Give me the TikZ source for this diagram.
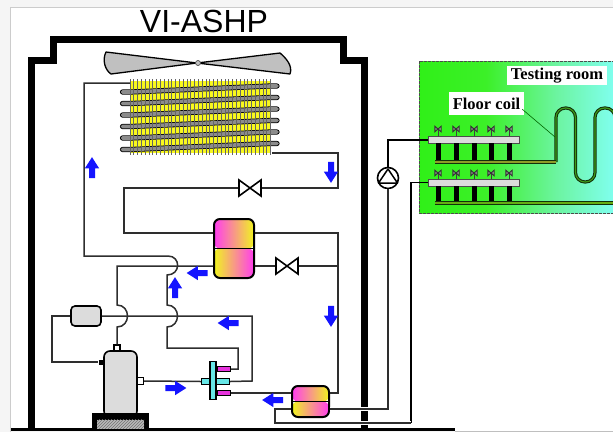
\documentclass[tikz,border=0pt]{standalone}
\usepackage{fontspec}
\setmainfont{Liberation Serif}
\setsansfont{Liberation Sans}
\usetikzlibrary{shapes.arrows, patterns}
\definecolor{pagegray}{HTML}{F5F5F5}
\definecolor{pipegray}{HTML}{2E2E2E}
\definecolor{bodygray}{HTML}{DCDCDC}
\definecolor{bladegray}{HTML}{C0C0C0}
\definecolor{tubegray}{HTML}{8C8C8C}
\definecolor{finyellow}{HTML}{F8F81E}
\definecolor{flowblue}{HTML}{1414FF}
\definecolor{tonemagenta}{HTML}{FF3CF0}
\definecolor{toneyellow}{HTML}{F0F51E}
\definecolor{fourcyan}{HTML}{66E6E6}
\definecolor{fourmagenta}{HTML}{E632DC}
\definecolor{coilgreen}{HTML}{3E9A18}
\definecolor{coildark}{HTML}{12300A}
\definecolor{coilyellow}{HTML}{8E9C28}
\definecolor{roomA}{HTML}{30F018}
\definecolor{roomB}{HTML}{3CF028}
\definecolor{roomC}{HTML}{6CF4A0}
\definecolor{roomD}{HTML}{80FFF0}
\pgfdeclarehorizontalshading{roomshade}{100bp}{color(0bp)=(roomA); color(25bp)=(roomA); color(42bp)=(roomB); color(60bp)=(roomC); color(75bp)=(roomD); color(100bp)=(roomD)}
\tikzset{
  pipe/.style={draw=pipegray, line width=1.5pt},
  halopipe/.style={pipe, preaction={draw=white, line width=4.5pt}},
  wall/.style={draw=black, line width=7pt, miter limit=10},
  flowarrow/.style={single arrow, fill=flowblue, inner sep=2.8pt, minimum width=14pt, minimum height=21pt, single arrow head extend=4.2pt, single arrow head indent=0pt, single arrow tip angle=65},
  twotone/.style={draw=black, line width=2pt, rounded corners=6pt, inner sep=0pt, path picture={
      \shade[left color=tonemagenta, right color=toneyellow] (path picture bounding box.north west) rectangle (path picture bounding box.east);
      \shade[left color=toneyellow, right color=tonemagenta] (path picture bounding box.west) rectangle (path picture bounding box.south east);
      \draw[black, line width=1.2pt] (path picture bounding box.west) -- (path picture bounding box.east);}},
  graybody/.style={draw=black, fill=bodygray, line width=1.6pt, inner sep=0pt},
  fourway/.style={draw=black, line width=1.4pt, inner sep=0pt},
  manifold/.style={draw=black!70, fill=bodygray, line width=0.8pt, inner sep=0pt, minimum width=91pt, minimum height=7pt},
  bowvalve/.pic={\draw[draw=black, fill=white, line width=1.6pt] (-11,-8) -- (11,8) -- (11,-8) -- (-11,8) -- cycle;},
  tinyvalve/.pic={\draw[draw=black!80, fill=black!45, line width=0.9pt] (-3.2,-2.8) -- (3.2,2.8) -- (3.2,-2.8) -- (-3.2,2.8) -- cycle;},
  coilouter/.style={draw=coildark, line width=3.2pt},
  coilinner/.style={draw=coilgreen, line width=1.1pt},
}
\begin{document}
\begin{tikzpicture}[x=1pt, y=-1pt]
  \useasboundingbox (0,0) rectangle (613,432);
  \fill[pagegray] (0,0) rectangle (613,432);
  \fill[white] (10,7) rectangle (613,431);
  \draw[gray!40, line width=0.6pt] (10,432) |- (613,7);
  \draw[gray!50, line width=0.8pt] (455,431) -- (613,431);

  \node[font=\sffamily\fontsize{32}{32}\selectfont, inner sep=0pt] (title) at (204,21) {VI-ASHP};

  \draw[wall] (31.5,429) -- (31.5,60.5) -- (53.5,60.5) -- (53.5,39) -- (343,39) -- (343,60.5) -- (364,60.5) -- (364,429);
  \draw[draw=black, line width=3pt] (11,429.5) -- (455,429.5);

  \draw[draw=black, fill=bladegray, line width=1.3pt, line join=round] (197,63) -- (106,52) .. controls (102,60) and (105,70) .. (111,74) -- cycle;
  \draw[draw=black, fill=bladegray, line width=1.3pt, line join=round] (197,63) -- (280,53) .. controls (286,58) and (293,66) .. (290,74) -- cycle;
  \node[circle, draw=black!70, fill=bladegray, line width=0.7pt, minimum size=5pt, inner sep=0pt] (hub) at (198,63) {};

  \coordinate (coilIn) at (130,83);
  \coordinate (coilOut) at (272,153);
  \fill[finyellow] (130,81) rectangle (271,153);
  \foreach \y in {92,103.5,115,126.5,138,149.5}
    \draw[draw=black, line width=5.2pt, line cap=round, line join=round] (122.5,\y) -- (131,\y) -- (270,\y-6) -- (277,\y-6);
  \foreach \y in {92,103.5,115,126.5,138,149.5}
    \draw[draw=tubegray, line width=3.6pt, line cap=round, line join=round] (122.5,\y) -- (131,\y) -- (270,\y-6) -- (277,\y-6);
  \foreach \x in {130,133.8,...,272}
    \draw[draw=black!60, line width=0.8pt] (\x,79) -- (\x,155);

  \node[twotone, minimum width=40pt, minimum height=59pt] (tank) at (234,248.5) {};
  \node[twotone, minimum width=37pt, minimum height=31pt] (econ) at (310.5,401.5) {};
  \node[graybody, rounded corners=4pt, minimum width=30pt, minimum height=20pt] (accum) at (86,316) {};

  \node[draw=black, fill=white, line width=1.4pt, inner sep=0pt, minimum size=6pt] (compTop) at (117,348) {};
  \node[draw=black, fill=white, line width=1.4pt, inner sep=0pt, minimum size=7pt] (compRight) at (140,381) {};
  \node[fill=black, inner sep=0pt, minimum size=5pt] (compLeft) at (101,362) {};
  \node[graybody, rounded corners=6pt, minimum width=33pt, minimum height=66pt] (comp) at (120.5,384) {};
  \node[fill=black, inner sep=0pt, minimum width=57pt, minimum height=17pt] (compBase) at (120.5,421.5) {};
  \node[preaction={fill=gray!55}, pattern=north east lines, pattern color=black!55, inner sep=0pt, minimum width=47pt, minimum height=9pt] (compHatch) at (120.5,424) {};

  \node[fourway, fill=fourcyan, minimum width=28pt, minimum height=6pt] (fourLeft) at (215.5,381.5) {};
  \node[fourway, fill=fourmagenta, minimum width=13pt, minimum height=5pt] (fourTop) at (224,369) {};
  \node[fourway, fill=fourmagenta, minimum width=13pt, minimum height=5pt] (fourBot) at (224,393) {};
  \node[fourway, fill=fourcyan, minimum width=6pt, minimum height=38pt] (fourBar) at (213,380.5) {};

  \coordinate (valveTop) at (250,188);
  \coordinate (valveMid) at (287,266);
  \draw[pipe] (coilIn) -- (84,83) -- (84,256) -- (168,256) .. controls (181,256) and (181,275) .. (167,275) -- (167,305) .. controls (181,305) and (181,327) .. (167,327) -- (167,348) -- (238,348) -- (238,369) -- (fourTop.east);
  \draw[pipe] (coilOut) -- (338,153) -- (338,188) -- (valveTop) -- (124,188) -- (124,233) -- (tank.west |- 0,233);
  \draw[pipe] (tank.east |- 0,233) -- (338,233) -- (338,393) -- (econ.east |- 0,393);
  \draw[pipe] (tank.east |- 0,266) -- (valveMid) -- (338,266);
  \draw[pipe] (tank.west |- 0,266) -- (117,266) -- (117,305) .. controls (131,305) and (131,327) .. (117,327) -- (compTop.north);
  \draw[pipe] (accum.east) -- (252,316) -- (252,381) -- (fourLeft.east);
  \draw[pipe] (accum.west) -- (52,316) -- (52,362) -- (compLeft.west);
  \draw[pipe] (compRight.east) -- (fourLeft.west);
  \draw[pipe] (fourBot.east) -- (econ.west |- fourBot.east);
  \pic at (valveTop) {bowvalve};
  \pic at (valveMid) {bowvalve};

  \node[flowarrow, shape border rotate=90] (flowA) at (92,170) {};
  \node[flowarrow, shape border rotate=270] (flowB) at (331,170) {};
  \node[flowarrow, shape border rotate=180] (flowC) at (199.5,273) {};
  \node[flowarrow, shape border rotate=90] (flowD) at (175,290) {};
  \node[flowarrow, shape border rotate=270] (flowE) at (331,314) {};
  \node[flowarrow, shape border rotate=180] (flowF) at (230.5,323) {};
  \node[flowarrow, shape border rotate=0] (flowG) at (173.5,388) {};
  \node[flowarrow, shape border rotate=180] (flowH) at (275,400) {};

  \node[shading=roomshade, draw=black!70, line width=1pt, dash pattern=on 3pt off 1pt, inner sep=0pt, minimum width=196pt, minimum height=152pt] (room) at (517,137) {};

  \coordinate (coilStart) at (435,162);
  \coordinate (coilEnd) at (556,162);
  \coordinate (loopEnd) at (435,203);
  \draw[coilouter, rounded corners=9.5pt] (coilEnd) -- (556,108) -- (575.5,108) -- (575.5,182) -- (595,182) -- (595,108) -- (615,108) -- (615,140);
  \draw[coilinner, rounded corners=9.5pt] (coilEnd) -- (556,108) -- (575.5,108) -- (575.5,182) -- (595,182) -- (595,108) -- (615,108) -- (615,140);
  \draw[coilouter] (coilStart) -- (coilEnd);
  \draw[coilinner, draw=coilyellow] (coilStart) -- (coilEnd);
  \draw[coilouter] (loopEnd) -- (614,203);
  \draw[coilinner, draw=coilgreen!80!yellow] (loopEnd) -- (614,203);

  \node[manifold] (supply) at (473.5,139.5) {};
  \node[manifold] (return) at (473.5,182.5) {};
  \foreach \x in {438,456,474,491,509} {
    \fill[black] (\x-2.5,143) rectangle (\x+2.5,160);
    \fill[black] (\x-2.5,186) rectangle (\x+2.5,201);
    \draw[draw=black!75, line width=0.8pt] (\x,136) -- (\x,130);
    \draw[draw=black!75, line width=0.8pt] (\x,179) -- (\x,174);
    \pic at (\x,129) {tinyvalve};
    \pic at (\x,173) {tinyvalve};
  }

  \node[circle, draw=black, fill=white, line width=1.6pt, minimum size=21pt, inner sep=0pt] (pump) at (388,178) {};
  \draw[draw=black, line width=1.5pt, line join=round] (388,169) -- (378.5,183) -- (397.5,183) -- cycle;

  \coordinate (elbowA) at (388,140);
  \coordinate (elbowB) at (411,182.5);
  \draw[halopipe] (econ.east |- 0,409) -- (388,409) -- (pump.south);
  \draw[pipe, draw=black] (pump.north) -- (elbowA) -- (supply.west |- elbowA);
  \draw[pipe, draw=black] (return.west) -- (elbowB) -- (411,423);
  \draw[halopipe] (411,423) -- (275,423) -- (275,409) -- (econ.west |- 0,409);

  \node[fill=white, font=\bfseries\fontsize{16.5}{17}\selectfont, inner sep=2pt, minimum width=100pt, minimum height=19pt] (testLabel) at (557,75.5) {Testing room};
  \node[fill=white, font=\bfseries\fontsize{16.5}{17}\selectfont, inner sep=2pt, minimum width=75pt, minimum height=23pt] (floorLabel) at (486.5,103.5) {Floor coil};
  \draw[draw=black!60!green, line width=0.6pt] (floorLabel.south east) ++(-2,-6) -- (555,137);
\end{tikzpicture}
\end{document}
